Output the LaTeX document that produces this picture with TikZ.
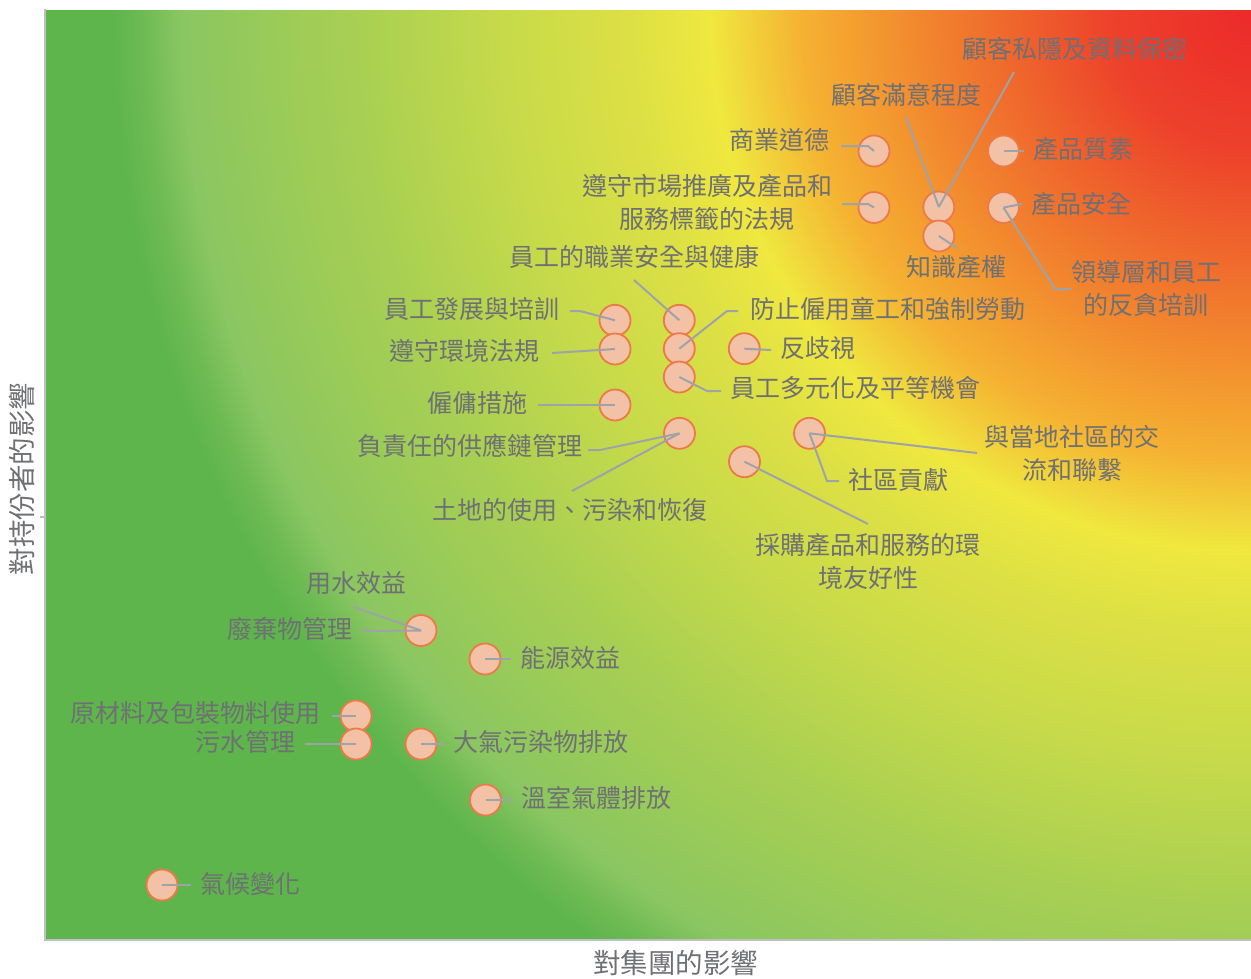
\documentclass[tikz,border=0pt]{standalone}
\usepackage{fontspec}
\newfontfamily\cjk{Noto Sans CJK TC}
\definecolor{h0}{HTML}{EC2A2A}
\definecolor{h1}{HTML}{ED412B}
\definecolor{h2}{HTML}{EF622C}
\definecolor{h3}{HTML}{F3952F}
\definecolor{h4}{HTML}{F5B232}
\definecolor{h5}{HTML}{EFE83F}
\definecolor{h6}{HTML}{DDE044}
\definecolor{h7}{HTML}{C6DA4A}
\definecolor{h8}{HTML}{A7CF53}
\definecolor{h9}{HTML}{96CA5A}
\definecolor{h10}{HTML}{8AC662}
\definecolor{h11}{HTML}{6DBA52}
\definecolor{h12}{HTML}{5DB54C}
\definecolor{dotfill}{HTML}{F3C1A6}
\definecolor{dotline}{HTML}{EC7A47}
\definecolor{leadcol}{HTML}{9EA3AA}
\definecolor{txt}{HTML}{6F7073}
\definecolor{axiscol}{HTML}{BFBFBF}
\pgfdeclareradialshading{heatmap}{\pgfpoint{0bp}{0bp}}{color(0bp)=(h0); color(2.19bp)=(h1); color(3.59bp)=(h2); color(5.78bp)=(h3); color(7.03bp)=(h4); color(8.44bp)=(h5); color(9.69bp)=(h6); color(11.72bp)=(h7); color(14.06bp)=(h8); color(15.63bp)=(h9); color(16.72bp)=(h10); color(17.34bp)=(h11); color(17.81bp)=(h12); color(50bp)=(h12)}
\tikzset{
  dot/.style={circle, draw=dotline, fill=dotfill, line width=1.8pt, minimum size=31pt, inner sep=0pt},
  lead/.style={draw=leadcol, line width=2pt},
  lab/.style={text=txt, font=\cjk\fontsize{25}{33}\selectfont, inner sep=0pt, align=center},
  axlab/.style={text=txt, font=\cjk\fontsize{27.5}{33}\selectfont, inner sep=0pt},
  axisline/.style={draw=axiscol, line width=2pt}
}
\begin{document}
\begin{tikzpicture}[x=1pt, y=-1pt]
\useasboundingbox (0,0) rectangle (1251,978);
% background
\begin{scope}
  \clip (45,10) rectangle (1251,940);
  \shade[shading=heatmap] (-349,-1590) rectangle (2851,1610);
\end{scope}
\draw[axisline] (45,9) -- (45,940) -- (1251,940);
\draw[axisline] (40,517) -- (45,517);
% axis labels
\node[axlab] (ax) at (675.5,963) {對集團的影響};
\node[axlab, rotate=90] (ay) at (22,479) {對持份者的影響};
% circles
\node[dot] (c1) at (874,151) {};
\node[dot] (c2) at (1003.5,151) {};
\node[dot] (c4) at (938.8,207) {};
\node[dot] (c3) at (874,207.5) {};
\node[dot] (c6) at (1003.5,207.5) {};
\node[dot] (c5) at (938.8,236) {};
\node[dot] (c7) at (679.3,320.3) {};
\node[dot] (c8) at (615,320.3) {};
\node[dot] (c9) at (615,349) {};
\node[dot] (c10) at (679.3,348.7) {};
\node[dot] (c11) at (744.3,348.7) {};
\node[dot] (c12) at (679.3,377) {};
\node[dot] (c13) at (615,405) {};
\node[dot] (c14) at (679.5,433.3) {};
\node[dot] (c15) at (809.5,433.3) {};
\node[dot] (c16) at (744.5,461.7) {};
\node[dot] (c17) at (421,630.5) {};
\node[dot] (c18) at (485,659) {};
\node[dot] (c19) at (356,716) {};
\node[dot] (c20) at (356,744) {};
\node[dot] (c21) at (421,744) {};
\node[dot] (c22) at (485.5,800) {};
\node[dot] (c23) at (162,885) {};
% labels
\node[lab] (t4b) at (1075,49) {顧客私隱及資料保密};
\node[lab] (t4a) at (906,95) {顧客滿意程度};
\node[lab, anchor=east] (t1) at (830,140) {商業道德};
\node[lab, anchor=west] (t2) at (1033,149) {產品質素};
\node[lab] (t3) at (707,202.5) {遵守市場推廣及產品和\\服務標籤的法規};
\node[lab, anchor=west] (t6) at (1031,204) {產品安全};
\node[lab] (t5) at (956.5,267) {知識產權};
\node[lab] (t6b) at (1146,288.5) {領導層和員工\\的反貪培訓};
\node[lab] (t7) at (634,257) {員工的職業安全與健康};
\node[lab, anchor=east] (t8) at (560,309) {員工發展與培訓};
\node[lab, anchor=west] (t10) at (750,309) {防止僱用童工和強制勞動};
\node[lab, anchor=east] (t9) at (540,351) {遵守環境法規};
\node[lab, anchor=west] (t11) at (780,348) {反歧視};
\node[lab, anchor=west] (t12) at (730,388) {員工多元化及平等機會};
\node[lab, anchor=east] (t13) at (528,403) {僱傭措施};
\node[lab, anchor=east] (t14) at (583,446) {負責任的供應鏈管理};
\node[lab] (t14b) at (570,510) {土地的使用、污染和恢復};
\node[lab] (t15) at (1072,453.5) {與當地社區的交\\流和聯繫};
\node[lab, anchor=west] (t15b) at (848,480) {社區貢獻};
\node[lab] (t16) at (868,561.5) {採購產品和服務的環\\境友好性};
\node[lab] (t17b) at (356.5,583) {用水效益};
\node[lab, anchor=east] (t17) at (353,629) {廢棄物管理};
\node[lab, anchor=west] (t18) at (520,658) {能源效益};
\node[lab, anchor=east] (t19) at (321,713) {原材料及包裝物料使用};
\node[lab, anchor=east] (t20) at (296,742) {污水管理};
\node[lab, anchor=west] (t21) at (453,742) {大氣污染物排放};
\node[lab, anchor=west] (t22) at (521,798) {溫室氣體排放};
\node[lab, anchor=west] (t23) at (200,884) {氣候變化};
% leader line ends
\coordinate (e1) at (841,146);
\coordinate (e2) at (1024,151);
\coordinate (e3) at (842,204);
\coordinate (e4a) at (906,117);
\coordinate (e4b) at (1014,72);
\coordinate (e5) at (957,248);
\coordinate (e6) at (1022,204);
\coordinate (e6b) at (1071,289);
\coordinate (e7) at (634,280);
\coordinate (e8) at (570,311);
\coordinate (e9) at (552,353);
\coordinate (e10) at (738,311);
\coordinate (e11) at (771,350);
\coordinate (e12) at (721,391);
\coordinate (e13) at (538,405);
\coordinate (e14) at (588,450);
\coordinate (e14b) at (572,491);
\coordinate (e15) at (977,453);
\coordinate (e15b) at (839,481);
\coordinate (e16) at (868,524);
\coordinate (e17) at (362,631);
\coordinate (e17b) at (354,607);
\coordinate (e18) at (511,659);
\coordinate (e19) at (332,716);
\coordinate (e20) at (305,744);
\coordinate (e21) at (445,744);
\coordinate (e22) at (513,800);
\coordinate (e23) at (191,885);
% leader lines
\draw[lead] (e1) -- (868,146) -- (c1.center);
\draw[lead] (c2.center) -- (e2);
\draw[lead] (e3) -- (868,204) -- (c3.center);
\draw[lead] (e4a) -- (c4.center);
\draw[lead] (e4b) -- (c4.center);
\draw[lead] (c5.center) -- (e5);
\draw[lead] (e6) -- (c6.center);
\draw[lead] (c6.center) -- (1055,289) -- (e6b);
\draw[lead] (e7) -- (c7.center);
\draw[lead] (e8) -- (580,311) -- (c8.center);
\draw[lead] (e9) -- (c9.center);
\draw[lead] (e10) -- (727,311) -- (c10.center);
\draw[lead] (c11.center) -- (e11);
\draw[lead] (c12.center) -- (707,391) -- (e12);
\draw[lead] (e13) -- (c13.center);
\draw[lead] (e14) -- (600,450) -- (c14.center);
\draw[lead] (e14b) -- (c14.center);
\draw[lead] (c15.center) -- (e15);
\draw[lead] (c15.center) -- (827,481) -- (e15b);
\draw[lead] (c16.center) -- (e16);
\draw[lead] (e17) -- (c17.center);
\draw[lead] (e17b) -- (c17.center);
\draw[lead] (c18.center) -- (e18);
\draw[lead] (e19) -- (c19.center);
\draw[lead] (e20) -- (c20.center);
\draw[lead] (c21.center) -- (e21);
\draw[lead] (c22.center) -- (e22);
\draw[lead] (c23.center) -- (e23);
\end{tikzpicture}
\end{document}
